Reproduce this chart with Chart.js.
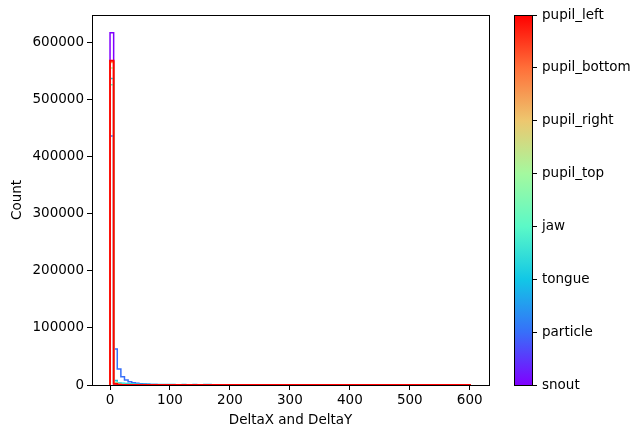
<!DOCTYPE html>
<html>
<head>
<meta charset="utf-8">
<script src="https://cdn.jsdelivr.net/npm/chart.js@4/dist/chart.umd.min.js"></script>
<style>
  html, body { margin: 0; padding: 0; background: #fff; }
  #wrap { position: relative; width: 643px; height: 438px; }
  #wrap canvas { position: absolute; left: 0; top: 0; }
</style>
</head>
<body>
<div id="wrap">
  <canvas id="histChart" width="643" height="438"></canvas>
  <canvas id="barChart" width="643" height="438"></canvas>
</div>
<script>
// body parts, bottom to top of the colorbar
const partNames = ["snout", "particle", "tongue", "jaw", "pupil_top", "pupil_right", "pupil_bottom", "pupil_left"];
const partColors = ["#8000ff", "#376ff9", "#12c7e6", "#5bf9c7", "#a4f99f", "#edc76f", "#ff6f39", "#ff0000"];

// histogram bins (shared by all parts)
const binWidth = 6.02;
const binCount = 100;

// counts per bin (later bins are empty)
const snoutCounts = [617000, 1800, 700, 300, 200, 100];
const particleCounts = [436000, 63000, 28000, 14500, 8800, 5800, 4000, 3000, 2200, 1600, 1200, 900, 700, 550, 450, 350, 300, 250, 200, 150];
const tongueCounts = [537000, 8000, 3500, 3000, 2600, 2200, 1800, 1500, 1300, 1200, 1100, 1000, 900, 900, 800, 800, 700, 700, 600, 600, 900, 500, 500, 800, 400, 400, 700, 700, 300, 600, 600, 300, 500, 500, 400, 400, 300, 300];
const jawCounts = [526000, 5000, 2500, 1800, 1400, 1100, 900, 700, 600, 500, 400, 300, 250, 200, 150, 100];
const pupilTopCounts = [555000, 3000, 1000, 500, 300, 200, 100];
const pupilRightCounts = [565000, 2500, 800, 400, 200, 100];
const pupilBottomCounts = [566000, 2500, 800, 400, 200, 100];
const pupilLeftCounts = [568000, 2000, 600, 300, 150, 100];

const allCounts = [snoutCounts, particleCounts, tongueCounts, jawCounts, pupilTopCounts, pupilRightCounts, pupilBottomCounts, pupilLeftCounts];

const xTicks = [0, 100, 200, 300, 400, 500, 600];
const yTicks = [0, 100000, 200000, 300000, 400000, 500000, 600000];

const FONT = { family: "'DejaVu Sans', sans-serif", size: 13.5 };

// step outline like matplotlib histtype='step'
function stepPoints(counts) {
  const pts = [{ x: 0, y: 0 }];
  for (var i = 0; i < binCount; i++) {
    const c = i < counts.length ? counts[i] : 0;
    pts.push({ x: i * binWidth, y: c });
    pts.push({ x: (i + 1) * binWidth, y: c });
  }
  pts.push({ x: binCount * binWidth, y: 0 });
  return pts;
}

const datasets = [];
for (var k = 0; k < partNames.length; k++) {
  datasets.push({
    label: partNames[k],
    data: stepPoints(allCounts[k]),
    borderColor: partColors[k],
    backgroundColor: partColors[k],
    borderWidth: k === partNames.length - 1 ? 1.8 : 1.5,
    pointRadius: 0,
    fill: false,
    tension: 0,
    order: partNames.length - k, // red drawn last, on top
  });
}

//枠線
const framePlugin = {
  id: "frame",
  afterDraw: (chart) => {
    const a = chart.chartArea;
    const ctx = chart.ctx;
    ctx.save();
    ctx.strokeStyle = "#000";
    ctx.lineWidth = 1;
    ctx.strokeRect(Math.round(a.left) + 0.5, Math.round(a.top) + 0.5, Math.round(a.right - a.left), Math.round(a.bottom - a.top));
    ctx.restore();
  },
};

new Chart(document.getElementById("histChart"), {
  type: "line",
  data: { datasets: datasets },
  plugins: [framePlugin],
  options: {
    responsive: false,
    animation: false,
    layout: { padding: { left: 0, right: 154, top: 15, bottom: 0 } },
    plugins: { legend: { display: false }, tooltip: { enabled: false } },
    scales: {
      x: {
        type: "linear",
        min: -30.1,
        max: 632.1,
        afterBuildTicks: (axis) => { axis.ticks = xTicks.map((v) => ({ value: v })); },
        afterFit: (axis) => { axis.height = 53; },
        grid: { drawOnChartArea: false, drawTicks: true, tickLength: 5, color: "#000" },
        border: { display: true, color: "#000" },
        ticks: { color: "#000", font: FONT, padding: 2, maxRotation: 0 },
        title: { display: true, text: "DeltaX and DeltaY", color: "#000", font: FONT, padding: { top: 0, bottom: 9 } },
      },
      y: {
        type: "linear",
        min: 0,
        max: 648000,
        afterBuildTicks: (axis) => { axis.ticks = yTicks.map((v) => ({ value: v })); },
        afterFit: (axis) => { axis.width = 92; },
        grid: { drawOnChartArea: false, drawTicks: true, tickLength: 5, color: "#000" },
        border: { display: true, color: "#000" },
        ticks: { color: "#000", font: FONT, padding: 3, callback: (v) => String(v) },
        title: { display: true, text: "Count", color: "#000", font: FONT, padding: { top: 9, bottom: 2 } },
      },
    },
  },
});

// カラーバー
const colorbarPlugin = {
  id: "colorbar",
  beforeDatasetsDraw: (chart) => {
    const a = chart.chartArea;
    const ctx = chart.ctx;
    const g = ctx.createLinearGradient(0, a.bottom, 0, a.top);
    for (var i = 0; i < partColors.length; i++) {
      g.addColorStop(i / (partColors.length - 1), partColors[i]);
    }
    ctx.save();
    ctx.fillStyle = g;
    ctx.fillRect(a.left, a.top, a.right - a.left, a.bottom - a.top);
    ctx.restore();
  },
};

new Chart(document.getElementById("barChart"), {
  type: "line",
  data: { datasets: [] },
  plugins: [colorbarPlugin, framePlugin],
  options: {
    responsive: false,
    animation: false,
    layout: { padding: { left: 514, right: 0, top: 15, bottom: 53 } },
    plugins: { legend: { display: false }, tooltip: { enabled: false } },
    scales: {
      x: { type: "linear", display: false, min: 0, max: 1 },
      y: {
        type: "linear",
        position: "right",
        min: 0,
        max: partNames.length - 1,
        afterBuildTicks: (axis) => { axis.ticks = partNames.map((n, i) => ({ value: i })); },
        afterFit: (axis) => { axis.width = 643 - 532; },
        grid: { drawOnChartArea: false, drawTicks: true, tickLength: 5, color: "#000" },
        border: { display: false },
        ticks: { color: "#000", font: FONT, padding: 5, callback: (v) => partNames[v] },
      },
    },
  },
});
</script>
</body>
</html>
